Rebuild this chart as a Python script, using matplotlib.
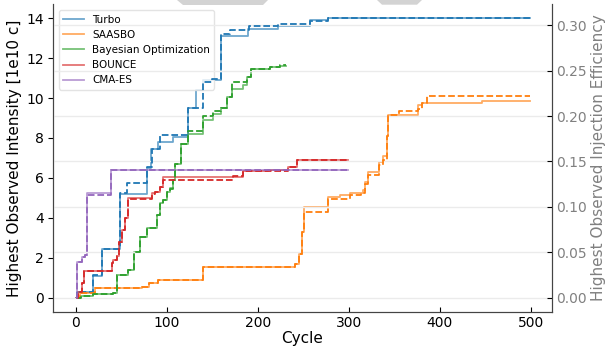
import matplotlib
matplotlib.use("Agg")
import matplotlib.pyplot as plt
from matplotlib.patches import Polygon

# ---------------- data ----------------
labels = ["Turbo", "SAASBO", "Bayesian Optimization", "BOUNCE", "CMA-ES"]
colors = ["#1f77b4", "#ff7f0e", "#2ca02c", "#d62728", "#9467bd"]

turbo_int_x = [0, 1.5, 19.5, 28.5, 48.5, 78, 83, 91, 107, 124, 132, 140, 160, 189, 222, 257, 277, 499]
turbo_int_y = [0, 0.3, 1.1, 2.45, 5.2, 6.5, 7.45, 7.8, 8.05, 9.5, 10.4, 10.9, 13.1, 13.45, 13.6, 13.9, 14.0, 14.0]
turbo_eff_x = [0, 1.5, 19.5, 28.5, 48.5, 56, 78, 84, 93, 124, 140, 150, 160, 170, 190, 222, 257, 277, 499]
turbo_eff_y = [0, 0.0066, 0.025, 0.054, 0.115, 0.126, 0.144, 0.164, 0.179, 0.209, 0.237, 0.241,
               0.29, 0.295, 0.2997, 0.3015, 0.305, 0.308, 0.308]

saasbo_int_x = [0, 4.8, 21.3, 72.6, 81, 90.8, 140.3, 241, 245, 249, 251, 277.5, 290, 301, 316, 318,
                321.5, 333.6, 338, 341.7, 343.4, 376.4, 380, 446, 499]
saasbo_int_y = [0, 0.22, 0.47, 0.55, 0.75, 0.88, 1.55, 1.7, 2.2, 3.3, 4.55, 5.02, 5.13, 5.25, 5.39, 5.8,
                6.3, 6.8, 7.1, 8.1, 9.13, 9.63, 9.75, 9.85, 9.85]
saasbo_eff_x = [0, 4.8, 21.3, 72.6, 81, 90.8, 140.3, 241, 245, 249, 251, 277.5, 301, 314, 318, 321.5,
                333.6, 338, 341.7, 343.4, 355, 376.4, 380, 385.6, 499]
saasbo_eff_y = [0, 0.0048, 0.0103, 0.0121, 0.0165, 0.0193, 0.034, 0.0374, 0.048, 0.072, 0.0945, 0.109,
                0.1129, 0.1154, 0.125, 0.1348, 0.1458, 0.152, 0.178, 0.2008, 0.2055, 0.208, 0.2143, 0.222, 0.222]

bo_int_x = [0, 5.6, 19.5, 41.4, 45, 57.9, 64, 70.7, 78.8, 89, 92.7, 96.3, 100, 103.7, 107.3, 109, 115.4,
            123.8, 140.3, 151.2, 160, 166, 171.4, 184, 188, 192.3, 213.5, 224.5, 231]
bo_int_y = [0, 0.1, 0.17, 0.25, 1.13, 1.38, 2.3, 3.05, 3.47, 4.13, 4.72, 4.9, 5.3, 5.47, 5.88, 6.7, 7.72,
            8.22, 8.89, 9.22, 9.5, 10.05, 10.47, 10.63, 11.05, 11.47, 11.55, 11.6, 11.6]
bo_eff_x = bo_int_x
bo_eff_y = [0, 0.0022, 0.0037, 0.0055, 0.0248, 0.0303, 0.0506, 0.067, 0.0763, 0.0908, 0.1037, 0.1077,
            0.1165, 0.1202, 0.1292, 0.1473, 0.1697, 0.184, 0.2, 0.2055, 0.2088, 0.221, 0.238, 0.238,
            0.2429, 0.252, 0.2538, 0.2557, 0.2557]

bounce_int_x = [0, 3, 6.7, 9.2, 39.6, 41.4, 45.8, 48, 50.6, 54.3, 57.9, 83.6, 87.2, 92.7, 96.3, 184.2,
                211.6, 233.6, 242.8, 299.5]
bounce_int_y = [0, 0.3, 0.72, 1.35, 1.72, 1.9, 2.1, 2.8, 3.4, 4.0, 4.97, 5.22, 5.3, 5.55, 6.05, 6.35,
                6.4, 6.55, 6.88, 6.88]
bounce_eff_x = [0, 3, 6.7, 9.2, 39.6, 41.4, 45.8, 48, 50.6, 54.3, 57.9, 83.6, 87.2, 92.7, 96.3, 173,
                184.2, 233.6, 242.8, 299.5]
bounce_eff_y = [0, 0.0066, 0.0158, 0.0297, 0.0378, 0.0418, 0.0462, 0.0615, 0.0747, 0.0879, 0.1092,
                0.1147, 0.1165, 0.122, 0.1293, 0.1337, 0.1396, 0.144, 0.1513, 0.1513]

cma_int_x = [0, 1.2, 6.7, 10.3, 12.2, 38.5, 299.5]
cma_int_y = [0, 1.8, 2.05, 2.13, 5.22, 6.38, 6.38]
cma_eff_x = cma_int_x
cma_eff_y = [0, 0.0396, 0.045, 0.0468, 0.1129, 0.1403, 0.1403]

int_series = [(turbo_int_x, turbo_int_y), (saasbo_int_x, saasbo_int_y), (bo_int_x, bo_int_y),
              (bounce_int_x, bounce_int_y), (cma_int_x, cma_int_y)]
eff_series = [(turbo_eff_x, turbo_eff_y), (saasbo_eff_x, saasbo_eff_y), (bo_eff_x, bo_eff_y),
              (bounce_eff_x, bounce_eff_y), (cma_eff_x, cma_eff_y)]

left_ticks = [0, 2, 4, 6, 8, 10, 12, 14]
right_ticks = [0.00, 0.05, 0.10, 0.15, 0.20, 0.25, 0.30]
x_ticks = [0, 100, 200, 300, 400, 500]

# ---------------- plot ----------------
fig = plt.figure(figsize=(6.14, 3.47), dpi=100)
ax = fig.add_axes([0.0868, 0.1017, 0.8985 - 0.0868, 0.988 - 0.1017])
ax2 = ax.twinx()

for (x, y), c, lab in zip(int_series, colors, labels):
    ax.step(x, y, where="post", color=c, alpha=0.65, lw=1.3, label=lab)
for (x, y), c in zip(eff_series, colors):
    ax2.step(x, y, where="post", color=c, lw=1.3, ls="--")

ax.set_xlim(-24.5, 523)
ax.set_ylim(-0.7, 14.7)
ax2.set_ylim(-0.0154, 0.3232)
ax.set_xticks(x_ticks)
ax.set_yticks(left_ticks)
ax2.set_yticks(right_ticks)
ax2.set_yticklabels([f"{t:.2f}" for t in right_ticks])

ax2.grid(axis="y", color="#ebebeb", lw=1.0)
ax2.set_axisbelow(True)

ax.set_xlabel("Cycle", fontsize=11, labelpad=1)
ax.set_ylabel("Highest Observed Intensity [1e10 c]", fontsize=11, labelpad=3)
ax2.set_ylabel("Highest Observed Injection Efficiency", fontsize=11, color="#808080", labelpad=3)

ax.tick_params(axis="x", direction="in", length=3.5, labelsize=10, pad=3)
ax.tick_params(axis="y", direction="out", length=3.5, labelsize=10)
ax2.tick_params(axis="y", direction="in", length=3.5, labelsize=10, labelcolor="#808080")

for a in (ax, ax2):
    a.spines["top"].set_visible(False)
    for s in ("left", "right", "bottom"):
        a.spines[s].set_color("#444444")

leg = ax.legend(loc="upper left", fontsize=7.5, frameon=True, borderaxespad=0.3,
                bbox_to_anchor=(0.005, 0.99))
leg.get_frame().set_edgecolor("#dddddd")

# grey shapes at the top edge
W, H = 614.0, 347.0
def fpoly(pts):
    return Polygon([(px / W, 1 - py / H) for px, py in pts], closed=True,
                   transform=fig.transFigure, facecolor="#d3d3d3", edgecolor="none", zorder=10)
fig.patches.append(fpoly([(177, 0), (268, 0), (263, 5), (183, 5)]))
fig.patches.append(fpoly([(377, 0), (422, 0), (417, 4.7), (382, 4.7)]))

fig.savefig("out.png", dpi=100)
